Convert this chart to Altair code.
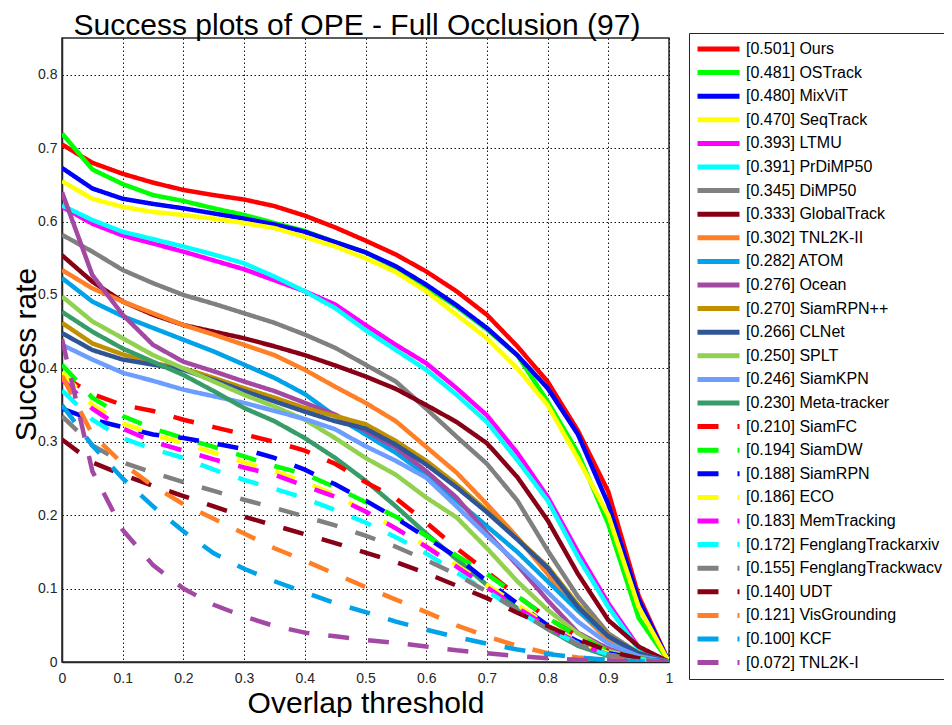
import altair as alt
import pandas as pd

# ---------------- data ----------------
TITLE = "Success plots of OPE - Full Occlusion (97)"

THRESHOLDS = [0.0, 0.05, 0.1, 0.15, 0.2, 0.25, 0.3, 0.35, 0.4, 0.45, 0.5,
              0.55, 0.6, 0.65, 0.7, 0.75, 0.8, 0.85, 0.9, 0.95, 1.0]

TRACKERS = ["Ours", "OSTrack", "MixViT", "SeqTrack", "LTMU", "PrDiMP50", "DiMP50",
            "GlobalTrack", "TNL2K-II", "ATOM", "Ocean", "SiamRPN++", "CLNet", "SPLT",
            "SiamKPN", "Meta-tracker", "SiamFC", "SiamDW", "SiamRPN", "ECO",
            "MemTracking", "FenglangTrackarxiv", "FenglangTrackwacv", "UDT",
            "VisGrounding", "KCF", "TNL2K-I"]

SCORES = [0.501, 0.481, 0.480, 0.470, 0.393, 0.391, 0.345, 0.333, 0.302, 0.282,
          0.276, 0.270, 0.266, 0.250, 0.246, 0.230, 0.210, 0.194, 0.188, 0.186,
          0.183, 0.172, 0.155, 0.140, 0.121, 0.100, 0.072]

OURS = [0.705, 0.680, 0.665, 0.653, 0.643, 0.636, 0.630, 0.621, 0.608, 0.592, 0.574,
        0.555, 0.532, 0.505, 0.473, 0.430, 0.382, 0.315, 0.232, 0.090, 0.0]
OSTRACK = [0.720, 0.671, 0.651, 0.636, 0.628, 0.618, 0.609, 0.598, 0.587, 0.572, 0.558,
           0.537, 0.511, 0.484, 0.453, 0.418, 0.355, 0.285, 0.188, 0.060, 0.0]
MIXVIT = [0.673, 0.645, 0.631, 0.624, 0.618, 0.611, 0.604, 0.596, 0.586, 0.572, 0.558,
          0.539, 0.514, 0.486, 0.455, 0.418, 0.373, 0.310, 0.215, 0.085, 0.0]
SEQTRACK = [0.655, 0.631, 0.620, 0.613, 0.609, 0.604, 0.598, 0.591, 0.579, 0.566, 0.550,
            0.531, 0.505, 0.473, 0.441, 0.400, 0.350, 0.277, 0.200, 0.075, 0.0]
LTMU = [0.620, 0.597, 0.581, 0.570, 0.559, 0.547, 0.535, 0.520, 0.505, 0.487, 0.459,
        0.432, 0.407, 0.373, 0.336, 0.285, 0.225, 0.150, 0.080, 0.020, 0.0]
PRDIMP50 = [0.622, 0.602, 0.586, 0.576, 0.566, 0.555, 0.543, 0.525, 0.505, 0.482, 0.452,
            0.425, 0.398, 0.364, 0.327, 0.275, 0.220, 0.143, 0.075, 0.017, 0.0]
DIMP50 = [0.582, 0.559, 0.534, 0.516, 0.500, 0.488, 0.475, 0.462, 0.446, 0.428, 0.405,
          0.382, 0.345, 0.307, 0.270, 0.220, 0.152, 0.089, 0.039, 0.012, 0.0]
GLOBALTRACK = [0.554, 0.518, 0.491, 0.473, 0.459, 0.450, 0.441, 0.430, 0.418, 0.404, 0.389,
               0.372, 0.350, 0.327, 0.298, 0.252, 0.193, 0.120, 0.057, 0.021, 0.0]
TNL2K_II = [0.534, 0.509, 0.491, 0.475, 0.459, 0.446, 0.432, 0.418, 0.398, 0.375, 0.353,
            0.328, 0.293, 0.258, 0.215, 0.170, 0.120, 0.070, 0.030, 0.008, 0.0]
ATOM = [0.523, 0.491, 0.471, 0.455, 0.439, 0.423, 0.405, 0.387, 0.365, 0.335, 0.310,
        0.285, 0.255, 0.220, 0.185, 0.150, 0.110, 0.070, 0.035, 0.010, 0.0]
OCEAN = [0.640, 0.527, 0.473, 0.432, 0.409, 0.396, 0.382, 0.369, 0.353, 0.337, 0.315,
         0.292, 0.260, 0.224, 0.176, 0.132, 0.084, 0.040, 0.018, 0.006, 0.0]
SIAMRPNPP = [0.462, 0.434, 0.419, 0.407, 0.400, 0.387, 0.373, 0.360, 0.346, 0.335, 0.324,
             0.301, 0.274, 0.242, 0.206, 0.168, 0.130, 0.078, 0.036, 0.012, 0.0]
CLNET = [0.448, 0.425, 0.412, 0.405, 0.398, 0.384, 0.369, 0.355, 0.341, 0.328, 0.318,
         0.296, 0.269, 0.238, 0.204, 0.167, 0.128, 0.075, 0.035, 0.012, 0.0]
SPLT = [0.498, 0.464, 0.441, 0.418, 0.400, 0.382, 0.364, 0.348, 0.330, 0.305, 0.278,
        0.255, 0.224, 0.197, 0.155, 0.110, 0.071, 0.039, 0.015, 0.005, 0.0]
SIAMKPN = [0.432, 0.412, 0.394, 0.383, 0.371, 0.362, 0.353, 0.342, 0.331, 0.317, 0.294,
           0.274, 0.251, 0.212, 0.172, 0.135, 0.095, 0.055, 0.025, 0.008, 0.0]
META_TRACKER = [0.477, 0.450, 0.427, 0.409, 0.391, 0.369, 0.346, 0.328, 0.305, 0.278, 0.247,
                0.212, 0.175, 0.140, 0.105, 0.073, 0.045, 0.022, 0.008, 0.002, 0.0]
SIAMFC = [0.390, 0.365, 0.350, 0.342, 0.330, 0.320, 0.310, 0.300, 0.288, 0.270, 0.245,
          0.223, 0.190, 0.155, 0.123, 0.090, 0.060, 0.035, 0.015, 0.005, 0.0]
SIAMDW = [0.405, 0.360, 0.335, 0.318, 0.305, 0.293, 0.280, 0.267, 0.256, 0.238, 0.218,
          0.198, 0.172, 0.145, 0.120, 0.090, 0.060, 0.035, 0.015, 0.005, 0.0]
SIAMRPN = [0.345, 0.330, 0.320, 0.310, 0.305, 0.298, 0.290, 0.278, 0.262, 0.242, 0.220,
           0.196, 0.170, 0.143, 0.110, 0.080, 0.050, 0.028, 0.012, 0.004, 0.0]
ECO = [0.395, 0.350, 0.325, 0.310, 0.298, 0.285, 0.272, 0.260, 0.245, 0.228, 0.205,
       0.182, 0.158, 0.132, 0.105, 0.078, 0.050, 0.028, 0.012, 0.004, 0.0]
MEMTRACKING = [0.385, 0.345, 0.318, 0.300, 0.288, 0.276, 0.265, 0.255, 0.240, 0.225, 0.205,
               0.182, 0.157, 0.130, 0.102, 0.074, 0.048, 0.026, 0.010, 0.003, 0.0]
FENG_ARXIV = [0.370, 0.330, 0.305, 0.290, 0.278, 0.262, 0.248, 0.236, 0.223, 0.207, 0.190,
              0.170, 0.148, 0.122, 0.097, 0.070, 0.045, 0.025, 0.010, 0.003, 0.0]
FENG_WACV = [0.335, 0.295, 0.272, 0.258, 0.245, 0.233, 0.221, 0.210, 0.198, 0.186, 0.172,
             0.157, 0.139, 0.119, 0.096, 0.071, 0.045, 0.024, 0.010, 0.003, 0.0]
UDT = [0.303, 0.272, 0.255, 0.240, 0.226, 0.212, 0.198, 0.186, 0.174, 0.162, 0.149,
       0.136, 0.121, 0.104, 0.087, 0.067, 0.049, 0.031, 0.015, 0.005, 0.0]
VISGROUNDING = [0.390, 0.310, 0.270, 0.240, 0.215, 0.195, 0.175, 0.155, 0.138, 0.120, 0.102,
                0.085, 0.068, 0.050, 0.035, 0.022, 0.012, 0.006, 0.003, 0.001, 0.0]
KCF = [0.350, 0.295, 0.250, 0.212, 0.178, 0.148, 0.127, 0.110, 0.095, 0.080, 0.068,
       0.055, 0.044, 0.034, 0.025, 0.017, 0.011, 0.006, 0.003, 0.001, 0.0]
TNL2K_I = [0.440, 0.260, 0.180, 0.132, 0.100, 0.078, 0.062, 0.049, 0.040, 0.035, 0.030,
           0.026, 0.021, 0.016, 0.012, 0.008, 0.005, 0.003, 0.002, 0.001, 0.0]

CURVES = [OURS, OSTRACK, MIXVIT, SEQTRACK, LTMU, PRDIMP50, DIMP50, GLOBALTRACK,
          TNL2K_II, ATOM, OCEAN, SIAMRPNPP, CLNET, SPLT, SIAMKPN, META_TRACKER,
          SIAMFC, SIAMDW, SIAMRPN, ECO, MEMTRACKING, FENG_ARXIV, FENG_WACV, UDT,
          VISGROUNDING, KCF, TNL2K_I]

X_TICKS = [0, 0.1, 0.2, 0.3, 0.4, 0.5, 0.6, 0.7, 0.8, 0.9, 1]
Y_TICKS = [0, 0.1, 0.2, 0.3, 0.4, 0.5, 0.6, 0.7, 0.8]

# ---------------- styles ----------------
COLORS = ["#FF0000", "#00FF00", "#0000FF", "#FFFF00", "#FF00FF", "#00FFFF", "#808080",
          "#880015", "#FF7F27", "#00A2E8", "#A349A4", "#BF9000", "#2F5597", "#92D050",
          "#6C9EFF", "#379C68",
          "#FF0000", "#00FF00", "#0000FF", "#FFFF00", "#FF00FF", "#00FFFF", "#808080",
          "#880015", "#FF7F27", "#00A2E8", "#A349A4"]
SOLID = [1, 0]
DASHED = [21, 19]
DASHES = [SOLID] * 16 + [DASHED] * 11

FONT = "Liberation Sans"

labels = [f"[{s:.3f}] {n}" for n, s in zip(TRACKERS, SCORES)]

rows = []
for lab, curve in zip(labels, CURVES):
    for t, v in zip(THRESHOLDS, curve):
        rows.append({"threshold": t, "rate": v, "tracker": lab})
df = pd.DataFrame(rows)

legend = alt.Legend(
    title=None, orient="none", legendX=627, legendY=-5,
    symbolType="stroke", symbolSize=1764, symbolStrokeWidth=5,
    clipHeight=20, rowPadding=3.6, padding=6,
    labelFont=FONT, labelFontSize=16, labelColor="black", labelOffset=4,
    labelLimit=400, strokeColor="#262626", fillColor="white",
)

lines = alt.Chart(df).mark_line(strokeWidth=4.5, clip=True).encode(
    x=alt.X("threshold:Q",
            scale=alt.Scale(domain=[0, 1], nice=False, zero=False),
            axis=alt.Axis(values=X_TICKS, format="~g", title="Overlap threshold",
                          labelPadding=9, titleY=50, titleBaseline="alphabetic",
                          labelFlush=False)),
    y=alt.Y("rate:Q",
            scale=alt.Scale(domain=[0, 0.85], nice=False),
            axis=alt.Axis(values=Y_TICKS, format="~g", title="Success rate",
                          labelPadding=5, titleX=-27, titleY=316, titleAngle=-90,
                          titleAlign="center", titleBaseline="alphabetic",
                          labelFlush=False)),
    color=alt.Color("tracker:N", sort=labels,
                    scale=alt.Scale(domain=labels, range=COLORS), legend=legend),
    strokeDash=alt.StrokeDash("tracker:N", sort=labels,
                              scale=alt.Scale(domain=labels, range=DASHES), legend=legend),
)

title_text = alt.Chart(pd.DataFrame({"title": [TITLE]})).mark_text(
    font=FONT, fontSize=30, color="black", align="center", baseline="alphabetic",
).encode(
    text="title:N",
    x=alt.value(295),
    y=alt.value(-3.5),
)

chart = alt.layer(lines, title_text).properties(
    width=607, height=624,
    padding={"left": 54, "top": 30, "right": 275, "bottom": 55},
    autosize=alt.AutoSizeParams(type="none"),
).configure_view(
    stroke="#262626", strokeWidth=1.5
).configure_axis(
    labelFont=FONT, labelFontSize=14, labelColor="#262626",
    titleFont=FONT, titleFontSize=30, titleFontWeight="normal", titleColor="black",
    grid=True, gridColor="black", gridDash=[1.5, 2.5], gridWidth=1, gridOpacity=0.9,
    domainColor="#262626", domainWidth=1.5, ticks=False, tickSize=0,
    labelOverlap=False,
)

chart.save("out.html", embed_options={"renderer": "svg", "actions": False})
